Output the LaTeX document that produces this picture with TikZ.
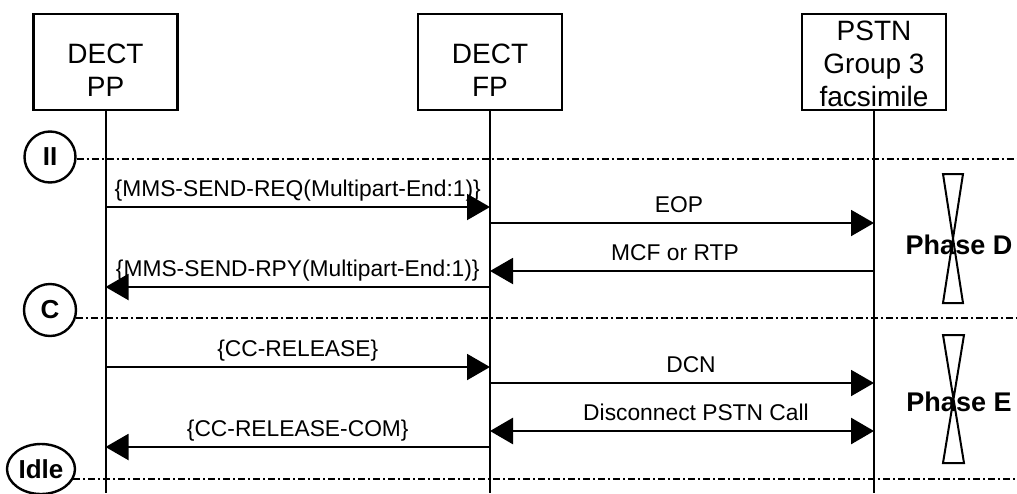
\documentclass[tikz,border=0pt]{standalone}
\usepackage{fontspec}
\setmainfont{Liberation Sans}
\usetikzlibrary{arrows.meta,shapes.geometric}

\begin{document}
\begin{tikzpicture}[x=0.5pt,y=-0.5pt,
entity/.style={rectangle, draw=black, line width=1.3pt, minimum width=72pt, minimum height=48pt, inner sep=0pt},
entitytext/.style={align=center, inner sep=0pt, font=\fontsize{14}{16.5}\selectfont},
lifeline/.style={draw, line width=1pt},
msg/.style={draw, line width=1pt, -{Triangle[length=11.5pt,width=13pt]}},
bothmsg/.style={draw, line width=1.4pt, {Triangle[length=11.5pt,width=13pt]}-{Triangle[length=11.5pt,width=13pt]}},
msglabel/.style={anchor=base, yshift=5.5pt, inner sep=0pt, font=\fontsize{11.4}{13}\selectfont},
state/.style={circle, draw=black, line width=1.2pt, inner sep=0pt, minimum size=25.5pt, font=\fontsize{13}{15}\selectfont\bfseries},
sepline/.style={line width=1pt, dash pattern=on 3.5pt off 1.5pt on 1pt off 1.5pt},
glass/.style={line width=1pt, line join=miter},
phase/.style={inner sep=0pt, font=\fontsize{13.5}{15}\selectfont\bfseries},
]
\useasboundingbox (0,0) rectangle (1017,493);
%Entities
\node[entity]     at (105.5,62) (pp) {};
\node[entity]     at (490,62)   (fp) {};
\node[entity]     at (874,62)   (pstn) {};
\node[entitytext] at (105.5,70.5) (pptext) {DECT\\PP};
\node[entitytext] at (490,70.5)   (fptext) {DECT\\FP};
\node[entitytext] at (874,64)     (pstntext) {PSTN\\Group 3\\facsimile};
%Rows
\coordinate (req)  at (0,207);
\coordinate (eop)  at (0,223);
\coordinate (mcf)  at (0,271);
\coordinate (rpy)  at (0,287);
\coordinate (rel)  at (0,367);
\coordinate (dcn)  at (0,383);
\coordinate (disc) at (0,431);
\coordinate (com)  at (0,447);
\coordinate (bottom)   at (0,493);
\coordinate (rightend) at (1017,0);
%Lifelines
\path[lifeline] (pp) -- (pp |- bottom);
\path[lifeline] (fp) -- (fp |- bottom);
\path[lifeline] (pstn) -- (pstn |- bottom);
%States
\node[state] at (50,157) (stII) {II};
\node[state, minimum size=26pt] at (50,310) (stC) {C};
\node[state, ellipse, minimum width=34pt, minimum height=25pt] at (41,469) (stIdle) {Idle};
\draw[sepline] (stII.-5) -- (stII.-5 -| rightend);
\draw[sepline] (stC.-18) -- (stC.-18 -| rightend);
\draw[sepline] (stIdle.-18) -- (stIdle.-18 -| rightend);
%Messages
\draw[msg] (pp |- req) -- node[msglabel] {\{MMS-SEND-REQ(Multipart-End:1)\}} (fp |- req);
\draw[msg] (fp |- eop) -- node[msglabel, xshift=-1.5pt] {EOP} (pstn |- eop);
\draw[msg] (pstn |- mcf) -- node[msglabel, xshift=-3.5pt] {MCF or RTP} (fp |- mcf);
\draw[msg] (fp |- rpy) -- node[msglabel] {\{MMS-SEND-RPY(Multipart-End:1)\}} (pp |- rpy);
\draw[msg] (pp |- rel) -- node[msglabel] {\{CC-RELEASE\}} (fp |- rel);
\draw[msg] (fp |- dcn) -- node[msglabel, xshift=4.5pt] {DCN} (pstn |- dcn);
\draw[bothmsg] (fp |- disc) -- node[msglabel, xshift=7pt] {Disconnect PSTN Call} (pstn |- disc);
\draw[msg] (fp |- com) -- node[msglabel] {\{CC-RELEASE-COM\}} (pp |- com);
%Phases
\node[phase] at (959,245) (phD) {Phase D};
\node[phase] at (959,402) (phE) {Phase E};
\draw[glass] (943,174) -- (963,174) -- (943,303) -- (963,303) -- cycle;
\draw[glass] (943,335) -- (964,335) -- (943,463) -- (964,463) -- cycle;
\end{tikzpicture}
\end{document}
